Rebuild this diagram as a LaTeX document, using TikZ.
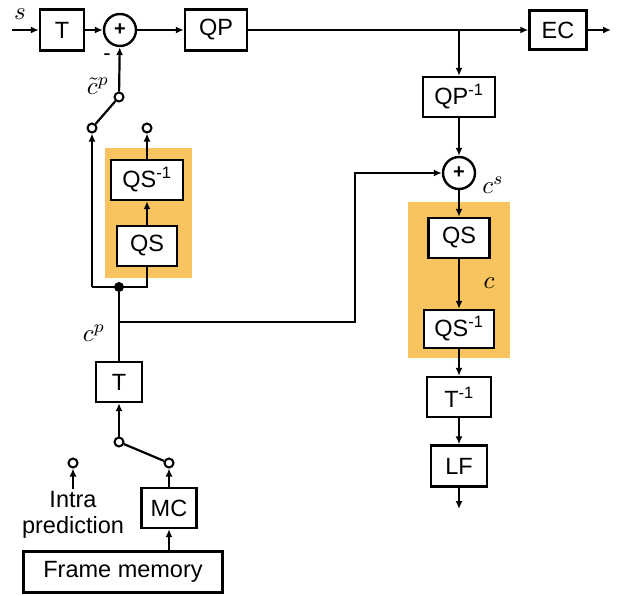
\documentclass[tikz,border=0pt]{standalone}
\usepackage{fontspec}
\setmainfont{Liberation Sans}
\usetikzlibrary{arrows.meta}
\definecolor{qsorange}{RGB}{248,196,96}
\begin{document}
\begin{tikzpicture}[x=1pt,y=-1pt,
  blk/.style={draw, line width=2.4pt, fill=white, inner sep=0pt,
    font=\fontsize{23.5}{25}\selectfont},
  sumnode/.style={circle, draw, line width=2.4pt, fill=white, minimum size=32pt,
    inner sep=0pt, font=\fontsize{20}{22}\selectfont\bfseries},
  term/.style={circle, draw, line width=2pt, fill=white, minimum size=9pt, inner sep=0pt},
  arr/.style={-{Latex[length=8pt,width=7pt]}, line width=2.2pt},
  wire/.style={line width=2.2pt},
  mlabel/.style={inner sep=0pt, scale=2.5},
  tlabel/.style={font=\fontsize{23.5}{26}\selectfont, inner sep=0pt, align=center}]
\useasboundingbox (0,0) rectangle (623,595);

% quantisation stages on orange backgrounds
\fill[qsorange] (105,148) rectangle (192,278);
\fill[qsorange] (408,202) rectangle (510,358);

% blocks
\node[blk, minimum width=44pt, minimum height=41pt] (T1) at (62,30) {T};
\node[sumnode] (sum1) at (120,30) {+};
\node[blk, minimum width=62pt, minimum height=41pt] (QP) at (216,30) {QP};
\node[blk, minimum width=57pt, minimum height=39pt] (EC) at (558,30) {EC};
\node[blk, minimum width=72pt, minimum height=40pt] (QPi) at (459,97) {QP\textsuperscript{-1}};
\node[sumnode] (sum2) at (459,173) {+};
\node[blk, minimum width=61pt, minimum height=40pt] (QSr) at (459,238) {QS};
\node[blk, minimum width=70pt, minimum height=38pt] (QSir) at (459,329) {QS\textsuperscript{-1}};
\node[blk, minimum width=64pt, minimum height=40pt] (Ti) at (459,397) {T\textsuperscript{-1}};
\node[blk, minimum width=56pt, minimum height=41pt] (LF) at (459,466) {LF};

\node[blk, minimum width=72pt, minimum height=40pt] (QSi) at (147,180) {QS\textsuperscript{-1}};
\node[blk, minimum width=60pt, minimum height=40pt] (QS) at (147,246) {QS};
\node[blk, minimum width=46pt, minimum height=40pt] (T2) at (119,382) {T};
\node[blk, minimum width=55pt, minimum height=40pt] (MC) at (169,508) {MC};
\node[blk, minimum width=199pt, minimum height=41pt] (FM) at (123,572) {Frame memory};

% switch terminals
\node[term] (s1top) at (119,97) {};
\node[term] (s1a) at (92,128) {};
\node[term] (s1b) at (147,128) {};
\node[term] (s2top) at (119,442) {};
\node[term] (s2intra) at (73,463) {};
\node[term] (s2mc) at (169,463) {};
\node[circle, fill, minimum size=10pt, inner sep=0pt] (jn) at (119,287) {};

% free ends and corners
\coordinate (in) at (12,30);
\coordinate (out) at (611,30);
\coordinate (lfout) at (459,509);
\coordinate (br) at (QPi.north |- QP.east);
\coordinate (cpbr) at (119,322);
\coordinate (cpc1) at (355,322);
\coordinate (cpc2) at (355,173);
\coordinate (jl) at (92,287);
\coordinate (jr) at (147,287);
\coordinate (intrain) at (73,489);

% forward path
\draw[arr] (in) -- (T1);
\draw[arr] (T1) -- (sum1);
\draw[arr] (sum1) -- (QP);
\draw[arr] (QP) -- (EC);
\draw[arr] (EC) -- (out);
\draw[arr] (br) -- (QPi);
\draw[arr] (QPi) -- (sum2);
\draw[arr] (sum2) -- (QSr);
\draw[arr] (QSr) -- (QSir);
\draw[arr] (QSir) -- (Ti);
\draw[arr] (Ti) -- (LF);
\draw[arr] (LF) -- (lfout);

% prediction path
\draw[arr] (s1top) -- (sum1);
\draw[wire] (s1a) -- (s1top);
\draw[arr] (jl) -- (s1a);
\draw[wire] (jl) -- (jn.center) -- (jr) -- (QS.south);
\draw[arr] (QS) -- (QSi);
\draw[arr] (QSi) -- (s1b);
\draw[wire] (T2) -- (jn);
\draw[arr] (cpbr) -- (cpc1) -- (cpc2) -- (sum2);
\draw[arr] (s2top) -- (T2);
\draw[wire] (s2top) -- (s2mc);
\draw[arr] (MC) -- (s2mc);
\draw[arr] (FM.north -| MC.south) -- (MC.south);
\draw[arr] (intrain) -- (s2intra);

% labels
\node[mlabel] (ls) at (20,14) {$s$};
\node[font=\fontsize{22}{24}\selectfont, inner sep=0pt] (lminus) at (107,57) {-};
\node[mlabel] (lct) at (98,86) {$\tilde{c}^{p}$};
\node[mlabel] (lcp) at (94,333) {$c^{p}$};
\node[mlabel] (lcs) at (493,185) {$c^{s}$};
\node[mlabel] (lc) at (489,283) {$c$};
\node[tlabel] (lintra) at (73,515) {Intra\\prediction};
\end{tikzpicture}
\end{document}
